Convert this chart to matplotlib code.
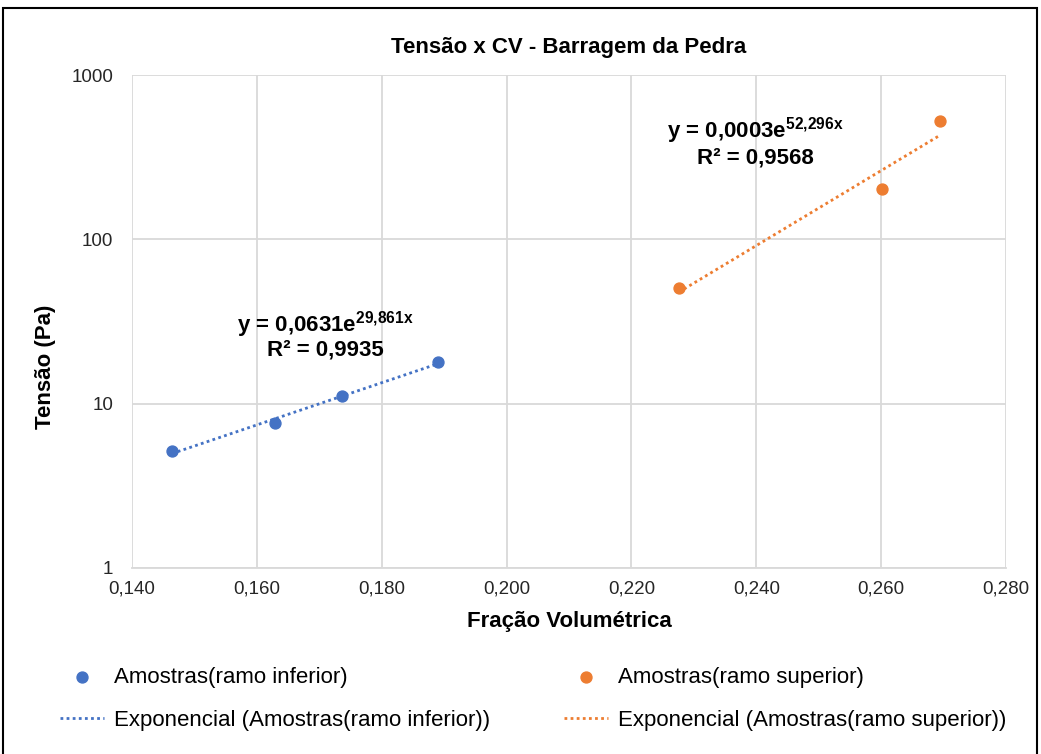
import matplotlib
matplotlib.use("Agg")
from matplotlib import pyplot as plt
from matplotlib.patches import Rectangle
from matplotlib.ticker import FuncFormatter, FixedLocator, NullLocator
import numpy as np

plt.rcParams['font.family'] = ['Liberation Sans', 'DejaVu Sans']
plt.rcParams['mathtext.fontset'] = 'custom'
plt.rcParams['mathtext.rm'] = 'Liberation Sans'
plt.rcParams['mathtext.bf'] = 'Liberation Sans:bold'

# data
cv_inf = [0.1464, 0.1629, 0.1736, 0.1890]
tensao_inf = [5.15, 7.63, 11.1, 17.9]
cv_sup = [0.2276, 0.2601, 0.2694]
tensao_sup = [50.6, 203, 526]

eq_inf = [r'y = 0,0631e$^{\mathbf{29{,}861x}}$', 'R² = 0,9935']
eq_sup = [r'y = 0,0003e$^{\mathbf{52{,}296x}}$', 'R² = 0,9568']

blue = '#4472c4'
orange = '#ed7d31'

fig = plt.figure(figsize=(10.41, 7.54), dpi=100)
ax = fig.add_axes([0.1268, 0.2467, 0.8396, 0.6538])

ax.scatter(cv_inf, tensao_inf, color=blue, s=62, zorder=3, label='Amostras(ramo inferior)')
ax.scatter(cv_sup, tensao_sup, color=orange, s=62, zorder=3, label='Amostras(ramo superior)')

# exponential trendlines (fit of ln y on x)
for xs, ys, c, name in [(cv_inf, tensao_inf, blue, 'Exponencial (Amostras(ramo inferior))'),
                        (cv_sup, tensao_sup, orange, 'Exponencial (Amostras(ramo superior))')]:
    b, a = np.polyfit(xs, np.log(ys), 1)
    xx = np.linspace(min(xs), max(xs), 100)
    ax.plot(xx, np.exp(a) * np.exp(b * xx), color=c, linestyle=(0, (1, 1.2)), lw=2, label=name, zorder=2)

ax.set_yscale('log')
ax.set_xlim(0.14, 0.28)
ax.set_ylim(1, 1000)
ax.set_xticks(np.arange(0.14, 0.2801, 0.02))
ax.xaxis.set_major_formatter(FuncFormatter(lambda v, p: f'{v:.3f}'.replace('.', ',')))
ax.yaxis.set_major_locator(FixedLocator([1, 10, 100, 1000]))
ax.yaxis.set_minor_locator(NullLocator())
ax.yaxis.set_major_formatter(FuncFormatter(lambda v, p: f'{v:g}'))
ax.grid(True, color='#d9d9d9', lw=1.3)
ax.set_axisbelow(True)
for s in ['top', 'right', 'left']:
    ax.spines[s].set_visible(False)
ax.spines['bottom'].set_color('#d9d9d9')
ax.spines['bottom'].set_linewidth(1.3)
ax.tick_params(length=0, labelsize=13.5, labelcolor='#262626')
ax.tick_params(axis='x', pad=9)
ax.tick_params(axis='y', pad=13.5)

ax.set_title('Tensão x CV - Barragem da Pedra', fontsize=16, fontweight='bold', pad=16)
ax.set_xlabel('Fração Volumétrica', fontsize=16, fontweight='bold', labelpad=10)
ax.set_ylabel('Tensão (Pa)', fontsize=16, fontweight='bold')
ax.yaxis.set_label_coords(-0.087, 0.408)

ax.text(0.1709, 30.1, eq_inf[0], fontsize=16, fontweight='bold', ha='center', va='center')
ax.text(0.1709, 21.2, eq_inf[1], fontsize=16, fontweight='bold', ha='center', va='center')
ax.text(0.2398, 457, eq_sup[0], fontsize=16, fontweight='bold', ha='center', va='center')
ax.text(0.2398, 313, eq_sup[1], fontsize=16, fontweight='bold', ha='center', va='center')

handles, labels = ax.get_legend_handles_labels()
order = [labels.index('Amostras(ramo inferior)'), labels.index('Exponencial (Amostras(ramo inferior))'),
         labels.index('Amostras(ramo superior)'), labels.index('Exponencial (Amostras(ramo superior))')]
fig.legend([handles[i] for i in order], [labels[i] for i in order], ncol=2,
           loc='upper left', bbox_to_anchor=(0.0576, 0.116), frameon=False, borderpad=0,
           borderaxespad=0, fontsize=16, handlelength=2.0, columnspacing=3.3,
           labelspacing=1.0, handletextpad=0.45)

fig.patches.append(Rectangle((0.003, -0.01), 0.993, 1.0, transform=fig.transFigure,
                             fill=False, edgecolor='black', lw=1.5))

plt.savefig('out.png', dpi=100)
